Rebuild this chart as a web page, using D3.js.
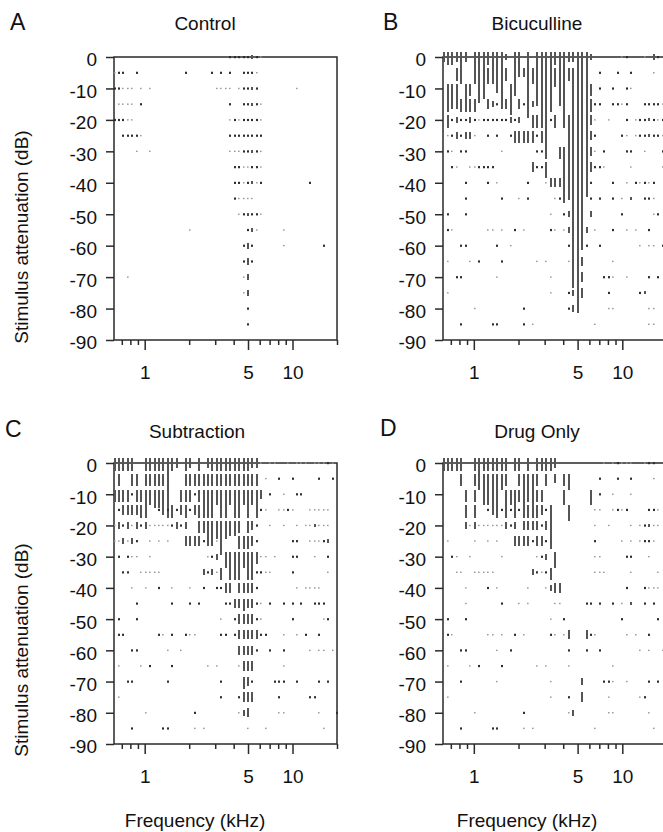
<!DOCTYPE html>
<html>
<head>
<meta charset="utf-8">
<script src="https://cdnjs.cloudflare.com/ajax/libs/d3/7.8.5/d3.min.js"></script>
<style>
body { margin: 0; background: #fff; }
svg { display: block; font-family: "Liberation Sans", Arial, Helvetica, sans-serif; }
</style>
</head>
<body>
<div class="graph-container"></div>
<script>

// STIMULUS GRID (kHz, 1/10 octave steps) AND LEVELS (dB)
var freqsKHz = [0.625, 0.670, 0.718, 0.769, 0.825, 0.884, 0.947, 1.015, 1.088, 1.166,
                1.250, 1.340, 1.436, 1.539, 1.649, 1.768, 1.894, 2.030, 2.176, 2.332,
                2.500, 2.679, 2.872, 3.078, 3.299, 3.536, 3.789, 4.061, 4.353, 4.665,
                5.000, 5.359, 5.743, 6.156, 6.598, 7.071, 7.579, 8.123, 8.706, 9.330,
                10.00, 10.72, 11.49, 12.31, 13.20, 14.14, 15.16, 16.25, 17.41, 18.66, 20.00];
var levelsDb = [0, -5, -10, -15, -20, -25, -30, -35, -40, -45, -50, -55, -60, -65, -70, -75, -80, -85];

var yTickValues = [0, -10, -20, -30, -40, -50, -60, -70, -80, -90];
var xMajorTicks = [1, 5, 10];
var xMinorTicks = [0.7, 0.8, 0.9, 2, 3, 4, 6, 7, 8, 9, 20];

// RESPONSES, ONE STRING PER LEVEL: "<freq index><code>"
// code "." = weak spike, "o" = spike, ":n" = response spanning n dB
var controlRows = [
  "26o 27o 28o 29o 30o 31:1 32o 33.",
  "0. 1o 2o 5o 16o 22o 24o 26o 29o 30o 31o 32.",
  "0o 1o 2. 3. 4. 6. 8. 23. 24. 25. 26. 28. 29o 30o 31:1 32o 41.",
  "1. 2. 3. 4. 6o 26o 29o 30o 31:1 32o 33.",
  "0o 1o 2o 3. 4. 26. 27o 28. 29o 30o 31o 32o 33.",
  "2o 3o 4o 5o 6. 26o 27o 28o 29o 30o 31o 32o 33o",
  "5. 8. 26. 27. 28. 29o 30o 31:1 32o 33.",
  "27o 28o 29. 30. 31o 32o 33.",
  "27o 28o 29. 30o 31:1 32. 33o 44o",
  "27o 28. 29. 30. 31.",
  "28. 29o 30:1 31o 32o 33.",
  "17. 30o 31:1 32. 38.",
  "29o 30:2 31o 38. 47o",
  "29o 30:2 31o",
  "3. 29. 30:2",
  "29. 30:2",
  "30o",
  "30o"
];

var bicucullineRows = [
  "0:3 1:4 2:4 3:3 4:10 5:3 7:10 8:16 9:15 10:4 11:10 12:13 13:18 14:2 16:10 17:8 19:21 21:17 22:24 23:29 24:19 25:4 26:17 27:24 28:3 29:3 30:83 31:63 32:46 33:2 40. 41o 45. 47:2 48o",
  "3:4 10:5 14:4 18:3 20:5 25:6 28:4 29:70 35o 39o 42o 47.",
  "1:5 2:5 3:5 5:5 6:4 15:10 16:4 33:4 35o 38o 41o 42.",
  "1:4 2:3 3:3 4:4 5:4 6:4 7:4 10:3 11:2 12o 14:3 17:3 18o 20:2 33:4 34o 35o 38o 39o 40. 41o 45o 46o 47o 48o 49.",
  "1:4 2o 3:2 4o 5o 6:2 7o 8. 9o 10o 11o 12o 13o 14o 15:2 16o 17:2 20:4 21:4 24o 25:4 28:27 33:3 34. 37. 41o 43. 44o 45o 46:1 47o 48. 49o",
  "1. 2o 3:2 4o 5:2 6:2 7. 10o 12o 15o 16:4 17:4 18:4 19:4 20:4 21o 22:4 23:6 33:3 34o 40o 41. 43. 44o 45o 46:1 47o 48o 49.",
  "1o 2. 4o 5o 13. 21o 22o 23:4 26:4 27:18 33:3 34. 36o 41o 42o 45. 49o",
  "2o 3. 6. 7. 8o 9o 10o 11o 20:3 21o 22o 23:5 33:3 34o 35o 36. 42. 49.",
  "5o 10o 12. 19o 23. 24:3 25:3 26:3 33o 38o 41. 43o 44. 45o 46. 47o",
  "5o 13o 17. 19o 25. 26o 33o 35o 38o 40. 42:1 45o 46o 47.",
  "1o 5o 24. 27o 28:2 33:2 40o 47. 48o",
  "1o 2. 10. 11. 13. 16o 18. 24o 25. 27. 28:2 32:2 34. 38o 41. 43. 46o",
  "4o 5o 12o 15. 28o 32o 35o 44. 46. 47. 49o",
  "1. 6. 8o 13o 21. 23. 28. 31:3 38.",
  "3o 4o 12. 24. 31:3 36o 37o 38. 41. 46o 48o",
  "1. 24. 28o 29:2 31:3 37o 44o 45:1",
  "7. 18o 28o 29:2 37. 38. 46. 47.",
  "4o 11o 12o 18o 20. 34. 46. 47."
];

var subtractionRows = [
  "0:4 1:4 2:4 3:4 4:4 7:4 8:4 9:4 10:4 11:4 12:16 13:4 14:3 16:4 17:3 19:4 21:3 22:4 23:4 24:4 25:4 26:4 27:4 28:4 29:4 30:4 31:3 32:3 33. 35. 36. 39. 41. 42. 43. 45. 46. 47. 48o 49.",
  "1:4 4:4 5:4 7:4 8:4 9:4 10:4 11:4 12:4 16:4 17:4 18:4 19:4 20:4 21:4 22:4 23:4 24:4 25:4 26:4 27:4 28:4 29:4 30:4 31:4 32:4 34. 37o 40o 46o 49o",
  "0:4 1:4 2:4 3:4 4o 5:4 6:4 7:5 8:5 9:6 10:6 11:6 12:9 15:4 16:4 17:4 18o 19:4 20:5 21:5 22:5 23:5 24:5 25:5 26:5 27:5 28:5 29:5 30:5 31:5 32:5 33:3 35o 38. 41o 42o",
  "1o 2:3 3:3 4:3 5:3 6:4 7:4 10o 11:3 12o 13:4 14o 15:3 16:4 17o 18:3 19:4 20:4 21:4 22:4 24:4 25:4 27:4 28:4 30:4 32:4 33o 34. 37. 38. 39o 40. 44. 45. 46. 47. 48.",
  "0. 1:2 2o 3:2 4. 5:2 6o 7:2 8. 9. 10. 11. 12. 13o 14:2 15o 16:2 19:4 20:4 21:5 22:5 23:6 24:5 25:6 26:5 27:5 28:4 30:4 31:3 32o 35. 38. 41. 43. 44. 45:1 46. 47. 48.",
  "0. 1. 2:2 3. 4:2 5o 8. 10. 12. 16:3 17:3 18:3 19:3 20o 21:3 22:3 23. 24:6 28:4 29:4 30:4 31:3 32o 40o 41o 44. 45. 46. 47o 48:1",
  "1o 3o 4. 5. 8. 21. 22o 23:2 25:5 26:5 27:5 28:5 29:5 30:5 31:5 32:4 33. 34. 36. 40o 41o 45. 48o",
  "2o 3o 6. 7. 8. 9. 10. 20:2 21o 22:2 23. 24:4 26:4 27:4 28:4 30:4 31:4 32o 33o 34. 35. 40o 48.",
  "4. 7. 10o 13. 17. 20o 23o 24o 25:3 26:3 28:3 29:3 30:3 31:3 32o 41. 43. 44. 45. 46.",
  "5o 13o 17o 19o 25o 26o 27:3 28:3 29:4 30:3 31:3 32o 33. 35o 38o 40o 42o 45o 46o 47o",
  "1o 5o 24. 27o 28:3 29:3 30:3 31:3 32o 33. 40o 47. 48o",
  "1o 2o 10o 11. 13o 16o 17. 18. 24o 25o 27o 28:3 29:3 30:3 31:3 32:3 33o 34o 38. 41. 43o 46o",
  "4o 5o 12. 15. 28:3 29:3 30:3 31:3 32o 35o 38o 44. 46. 47. 49.",
  "1. 6. 8o 13o 21. 23. 28. 29:3 30:3 31:3 38.",
  "3o 4o 12o 24o 29:4 30:3 31o 36o 37o 38o 41o 46o 48o",
  "1. 24o 28o 29:3 30:3 31:3 37o 44o 45o",
  "7. 18o 28. 29:2 30:3 37. 38. 46. 50o",
  "4o 11o 12o 18. 20. 30. 34. 47."
];

var drugOnlyRows = [
  "0:4 1:4 2:4 3:4 4:4 7:4 8:5 9:4 10:4 11:4 12:4 13:4 14:4 16:4 17:4 19:4 21:4 22:4 23:4 24:4 25:3 36. 38. 39o 40. 41. 42. 45. 46o 47o",
  "4:4 7:4 8:5 9:5 10:5 11:5 12:5 13:5 14:4 17:4 18:5 19:5 20:5 21:4 23:4 25:3 27:4 28:5 35o 39o 42o 47.",
  "5:4 7:4 9:5 10:5 11:5 12:5 14:5 15:5 16:5 17:4 18:5 19:4 20:5 21:4 22:4 27:5 33:5 35o 38. 42.",
  "5:4 7:4 10o 11:3 12:4 13o 14:4 15o 16:4 17o 18:4 19:4 20:4 21:4 22:3 23o 24:14 28:5 34. 35. 38. 39o 40. 41o 46o 47o 48.",
  "5:2 6. 7:2 8. 9. 10. 11. 12. 13. 14:2 15o 16:2 18:3 19:3 20:3 21:3 22o 23:3 34. 37. 42. 44. 45o 46:1 47. 48.",
  "1. 7. 10. 12. 16:3 17:3 18:3 19:3 20o 21:3 22:3 23o 24:2 34o 40. 42. 44. 45o 46o 47.",
  "2o 3. 6. 13. 21. 22o 23:2 25:5 34. 35. 41o 42o 46.",
  "3. 4. 7. 8. 9. 10. 11. 20:2 21o 22. 23o 24:4 34. 35. 36. 42. 48.",
  "5. 10o 12. 19. 23. 24:2 25:3 26:3 41o 45o 46. 47. 48.",
  "5. 13o 17. 19. 25. 26. 32o 33o 35o 38o 40. 42:1 45o 47o",
  "1o 5o 24. 27o 40o 48o",
  "1o 2. 10. 11. 13. 16o 18. 24o 25. 27. 28:3 32:3 33o 34. 41. 43. 46o",
  "4o 5o 12. 15o 28o 32o 35o 44. 46. 49.",
  "1. 6. 8o 13o 21. 23. 28. 38.",
  "4o 12. 24. 31:2 36o 37o 38. 41. 46o 48o",
  "1. 24. 28o 31:3 37. 44. 45o",
  "7. 18o 28. 29:2 37. 38. 46.",
  "4o 11o 12o 18. 20. 34. 47."
];

// PANEL LAYOUT
var panels = [
  {letter: "A", title: "Control", rows: controlRows, left: 114, right: 337, top: 57, bottom: 340, titleX: 205, titleY: 30, letterX: 10, letterY: 30, yLabel: 237, xLabel: false},
  {letter: "B", title: "Bicuculline", rows: bicucullineRows, left: 443, right: 667, top: 57, bottom: 340, titleX: 537, titleY: 30, letterX: 383, letterY: 30, yLabel: null, xLabel: false},
  {letter: "C", title: "Subtraction", rows: subtractionRows, left: 114, right: 337, top: 463, bottom: 744, titleX: 197, titleY: 438, letterX: 5, letterY: 437, yLabel: 650, xLabel: 195},
  {letter: "D", title: "Drug Only", rows: drugOnlyRows, left: 443, right: 667, top: 463, bottom: 744, titleX: 537, titleY: 438, letterX: 380, letterY: 436, yLabel: null, xLabel: 527}
];

var svg = d3.select(".graph-container").append("svg")
    .attr("width", 663)
    .attr("height", 832);

function parseRow(str, level) {
    return str.split(" ").filter(t => t.length).map(t => {
        var m = t.match(/^(\d+)(\.|o|:([\d.]+))$/);
        return {
            freq: freqsKHz[+m[1]],
            level: level,
            kind: m[3] ? "bar" : (m[2] == "o" ? "dot" : "faint"),
            len: m[3] ? +m[3] : 0
        };
    });
}

panels.forEach(p => {
    var g = svg.append("g");

    var x = d3.scaleLog().domain([0.62, 20]).range([p.left, p.right]);
    var y = d3.scaleLinear().domain([0, -90]).range([p.top, p.bottom]);

    var marks = [];
    p.rows.forEach((r, i) => { marks = marks.concat(parseRow(r, levelsDb[i])); });

    // FRAME
    g.append("rect")
        .attr("x", p.left).attr("y", p.top)
        .attr("width", p.right - p.left).attr("height", p.bottom - p.top)
        .attr("fill", "none").attr("stroke", "#2a2a2a").attr("stroke-width", 1.5);

    // Y AXIS
    var yAxis = d3.axisLeft(y).tickValues(yTickValues).tickSize(8).tickPadding(9).tickFormat(d => d);
    var yg = g.append("g").attr("transform", "translate(" + p.left + ",0)").call(yAxis);
    yg.select(".domain").remove();
    yg.selectAll("line").attr("stroke", "#2a2a2a").attr("stroke-width", 1.5);
    yg.selectAll("text").attr("dy", "0.47em").attr("fill", "#111")
        .style("font-size", "19px").style("font-family", "'Liberation Sans', Arial, sans-serif");

    // X AXIS (major with labels, minor without)
    var xAxis = d3.axisBottom(x).tickValues(xMajorTicks).tickSize(10).tickPadding(16).tickFormat(d3.format("d"));
    var xg = g.append("g").attr("transform", "translate(0," + p.bottom + ")").call(xAxis);
    xg.select(".domain").remove();
    xg.selectAll("line").attr("stroke", "#2a2a2a").attr("stroke-width", 1.5);
    xg.selectAll("text").attr("fill", "#111")
        .style("font-size", "19px").style("font-family", "'Liberation Sans', Arial, sans-serif");

    var xMinor = d3.axisBottom(x).tickValues(xMinorTicks).tickSize(5).tickFormat("");
    var xm = g.append("g").attr("transform", "translate(0," + p.bottom + ")").call(xMinor);
    xm.select(".domain").remove();
    xm.selectAll("line").attr("stroke", "#2a2a2a").attr("stroke-width", 1.5);

    // RESPONSES (snapped to whole pixels so neighbouring bars keep a gap)
    g.append("g").attr("shape-rendering", "crispEdges").selectAll("rect")
        .data(marks.filter(d => d.kind == "bar"))
        .enter().append("rect")
        .attr("x", d => Math.round(x(d.freq)) - 1)
        .attr("y", d => y(d.level + Math.min(d.len / 2, 1.5)))
        .attr("width", 2)
        .attr("height", d => y(d.level + Math.min(d.len / 2, 1.5) - d.len) - y(d.level + Math.min(d.len / 2, 1.5)))
        .attr("fill", "#555");

    g.append("g").selectAll("rect")
        .data(marks.filter(d => d.kind != "bar"))
        .enter().append("rect")
        .attr("x", d => Math.round(x(d.freq)) - 1)
        .attr("y", d => y(d.level) - (d.kind == "dot" ? 1 : 0.7))
        .attr("width", d => d.kind == "dot" ? 2 : 1.6)
        .attr("height", d => d.kind == "dot" ? 2.2 : 1.4)
        .attr("fill", d => d.kind == "dot" ? "#2e2e2e" : "#9a9a9a");

    // TITLES
    g.append("text").attr("x", p.letterX).attr("y", p.letterY)
        .style("font-size", "23px").attr("fill", "#111").text(p.letter);
    g.append("text").attr("x", p.titleX).attr("y", p.titleY)
        .attr("text-anchor", "middle").style("font-size", "19px").attr("fill", "#111").text(p.title);

    if (p.yLabel) {
        g.append("text")
            .attr("transform", "translate(28," + p.yLabel + ") rotate(-90)")
            .attr("text-anchor", "middle").style("font-size", "19px").attr("fill", "#111")
            .text("Stimulus attenuation (dB)");
    }
    if (p.xLabel) {
        g.append("text").attr("x", p.xLabel).attr("y", 827)
            .attr("text-anchor", "middle").style("font-size", "19px").attr("fill", "#111")
            .text("Frequency (kHz)");
    }
});

</script>
</body>
</html>
